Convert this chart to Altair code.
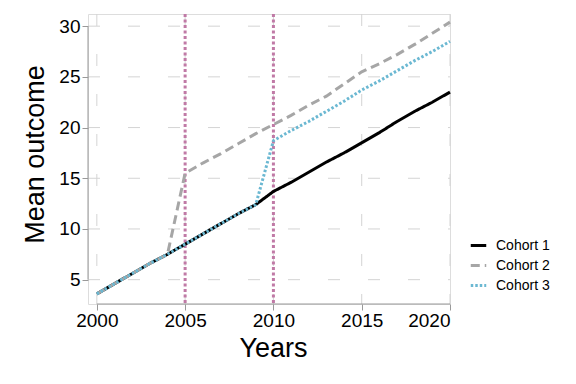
import altair as alt
import pandas as pd

years = list(range(2000, 2021))
cohort1 = [3.6, 4.6, 5.6, 6.6, 7.5, 8.5, 9.5, 10.5, 11.5, 12.4, 13.7,
           14.6, 15.6, 16.6, 17.5, 18.5, 19.5, 20.6, 21.6, 22.5, 23.5]
cohort2 = [3.6, 4.6, 5.6, 6.6, 7.5, 15.5, 16.5, 17.4, 18.4, 19.4, 20.3,
           21.2, 22.2, 23.1, 24.3, 25.5, 26.3, 27.2, 28.2, 29.3, 30.4]
cohort3 = [3.6, 4.6, 5.6, 6.6, 7.5, 8.5, 9.5, 10.5, 11.5, 12.4, 18.7,
           19.7, 20.6, 21.6, 22.6, 23.7, 24.6, 25.6, 26.6, 27.5, 28.5]
cohorts = ["Cohort 1", "Cohort 2", "Cohort 3"]
events = [2005, 2010]
x_ticks = [2000, 2005, 2010, 2015, 2020]
y_ticks = [5, 10, 15, 20, 25, 30]

rows = []
for name, vals in zip(cohorts, [cohort1, cohort2, cohort3]):
    for yr, v in zip(years, vals):
        rows.append({"year": yr, "value": v, "cohort": name, "order": cohorts.index(name)})
df = pd.DataFrame(rows)

xs = alt.Scale(domain=[1999.5, 2020], nice=False, zero=False)
ys = alt.Scale(domain=[2.6, 31.2], nice=False, zero=False)

FONT = "Liberation Sans"

grid_h = alt.Chart(pd.DataFrame({"v": y_ticks})).mark_rule(
    color="#d4d4d4", strokeWidth=1, strokeDash=[12, 28]
).encode(y=alt.Y("v:Q", scale=ys), x=alt.value(0), x2=alt.value(362))

grid_v = alt.Chart(pd.DataFrame({"v": x_ticks})).mark_rule(
    color="#d4d4d4", strokeWidth=1, strokeDash=[12, 28]
).encode(x=alt.X("v:Q", scale=xs), y=alt.value(0), y2=alt.value(290))

vlines = alt.Chart(pd.DataFrame({"v": events})).mark_rule(
    color="#C07AA6", strokeWidth=3, strokeDash=[3, 2.5]
).encode(x=alt.X("v:Q", scale=xs))

legend_cfg = dict(title=None, orient="none", legendX=381, legendY=222,
                  symbolType="stroke", symbolSize=240, symbolStrokeWidth=3,
                  labelFontSize=14, labelFont=FONT, labelColor="black",
                  rowPadding=3, labelOffset=8)

lines = alt.Chart(df).mark_line(strokeWidth=3).encode(
    x=alt.X("year:Q", scale=xs,
            axis=alt.Axis(values=x_ticks, format="d", title="Years", grid=False,
                          domain=False, tickColor="#999999", tickSize=6,
                          labelFontSize=19, labelColor="black", labelFont=FONT,
                          labelPadding=1, titleFontSize=27, titleFont=FONT,
                          titleFontWeight="normal", titleColor="black",
                          titlePadding=5, titleX=185)),
    y=alt.Y("value:Q", scale=ys,
            axis=alt.Axis(values=y_ticks, title="Mean outcome", grid=False,
                          domain=False, tickColor="#999999", tickSize=6,
                          labelFontSize=19, labelColor="black", labelFont=FONT,
                          labelPadding=2, titleFontSize=27, titleFont=FONT,
                          titleFontWeight="normal", titleColor="black",
                          titlePadding=9, titleY=140)),
    color=alt.Color("cohort:N",
                    scale=alt.Scale(domain=cohorts, range=["#000000", "#A6A6A6", "#6BB8D2"]),
                    legend=alt.Legend(**legend_cfg)),
    strokeDash=alt.StrokeDash("cohort:N",
                              scale=alt.Scale(domain=cohorts, range=[[1, 0], [9, 5], [2.5, 2]]),
                              legend=alt.Legend(**legend_cfg)),
    order=alt.Order("order:Q"),
)

xaxis_line = alt.Chart(pd.DataFrame({"a": [x_ticks[0]], "b": [x_ticks[-1]]})).mark_rule(
    color="#999999", strokeWidth=1
).encode(x=alt.X("a:Q", scale=xs), x2="b:Q", y=alt.value(290))

yaxis_line = alt.Chart(pd.DataFrame({"a": [y_ticks[0]], "b": [y_ticks[-1]]})).mark_rule(
    color="#999999", strokeWidth=1
).encode(y=alt.Y("a:Q", scale=ys), y2="b:Q", x=alt.value(0))

chart = alt.layer(grid_h, grid_v, vlines, lines, xaxis_line, yaxis_line).properties(
    width=362, height=290,
    autosize=alt.AutoSizeParams(type="none"),
    padding={"left": 80, "top": 6, "right": 118, "bottom": 72},
).configure_view(stroke=None).configure(background="white")

chart.save("out.html", embed_options={"renderer": "svg", "actions": False})
